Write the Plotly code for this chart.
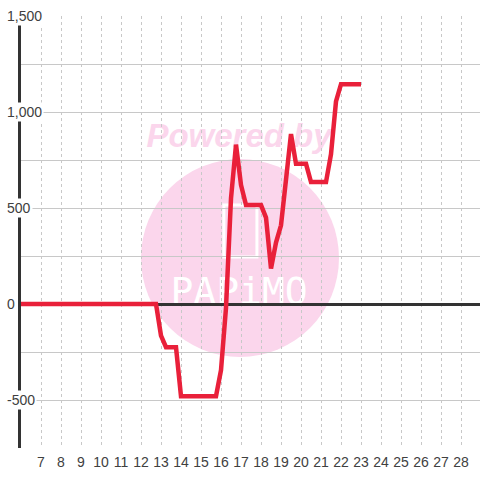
import plotly.graph_objects as go

# data
x_vals = [6, 12.75, 13.0, 13.25, 13.75, 14.0, 15.75, 16.0, 16.25, 16.5, 16.75, 17.0, 17.25,
          18.0, 18.25, 18.5, 18.75, 19.0, 19.5, 19.75, 20.25, 20.5, 21.25, 21.5, 21.75, 22.0, 23.0]
y_vals = [0, 0, -165, -225, -225, -480, -480, -345, -20, 550, 830, 620, 515,
          515, 450, 185, 320, 410, 885, 730, 730, 635, 635, 780, 1055, 1145, 1145]
x_ticks = list(range(7, 29))
y_label_vals = [1500, 1000, 500, 0, -500]
y_label_text = ["1,500", "1,000", "500", "0", "-500"]
y_grid_vals = [-750, -500, -250, 0, 250, 500, 750, 1000, 1250, 1500]

fig = go.Figure()
fig.add_trace(go.Scatter(x=x_vals, y=y_vals, mode="lines",
                         line=dict(color="#e9203a", width=4.5), showlegend=False,
                         hoverinfo="skip"))

fig.update_layout(
    width=480, height=480,
    margin=dict(l=21, r=0, t=16, b=32, autoexpand=False),
    paper_bgcolor="white", plot_bgcolor="white",
    font=dict(family="Liberation Sans, Arial, sans-serif", size=14, color="#404040"),
    xaxis=dict(range=[6, 28.95], tickvals=x_ticks, showgrid=True, gridcolor="#c8c8c8",
               griddash="3px,3px", gridwidth=1, zeroline=False, showline=False,
               ticks="", tickfont=dict(size=14, color="#404040"), automargin=False,
               ticklabelstandoff=4),
    yaxis=dict(range=[-750, 1500], tickvals=y_grid_vals, showticklabels=False,
               showgrid=True, gridcolor="#c8c8c8", gridwidth=1,
               zeroline=True, zerolinecolor="#333333", zerolinewidth=3,
               showline=True, linecolor="#333333", linewidth=3, ticks="",
               automargin=False),
)

# watermark (drawn below grid)
pink = "#fbd6ec"
fig.add_shape(type="circle", xref="paper", yref="paper",
              x0=0.2614, x1=0.6928, y0=0.2106, y1=0.669,
              fillcolor=pink, line=dict(width=0), layer="below")
fig.add_shape(type="rect", xref="paper", yref="paper",
              x0=0.2, x1=0.75, y0=0.68, y1=0.78,
              fillcolor="rgba(0,0,0,0)", line=dict(width=0), layer="below",
              label=dict(text="<b><i>Powered by</i></b>",
                         font=dict(size=33, color=pink, family="Liberation Sans, Arial"),
                         textposition="middle center"))
fig.add_shape(type="rect", xref="paper", yref="paper",
              x0=0.442, x1=0.514, y0=0.442, y1=0.5625,
              fillcolor="rgba(0,0,0,0)", line=dict(width=3, color="white"), layer="below")
fig.add_shape(type="rect", xref="paper", yref="paper",
              x0=0.3, x1=0.65, y0=0.32, y1=0.42,
              fillcolor="rgba(0,0,0,0)", line=dict(width=0), layer="below",
              label=dict(text="PAPiMO",
                         font=dict(size=38, color="white", family="DejaVu Sans Mono"),
                         textposition="middle center"))

# y labels with white background over the axis
for v, t in zip(y_label_vals, y_label_text):
    fig.add_annotation(x=-0.034, xref="paper", y=v, yref="y", text=t,
                       showarrow=False, xanchor="left", yanchor="middle",
                       bgcolor="white", borderpad=1,
                       font=dict(size=14, color="#404040"))

fig.write_html("out.html", config={"displayModeBar": False},
               post_script="document.body.style.margin='0px';document.body.style.overflow='hidden';")
